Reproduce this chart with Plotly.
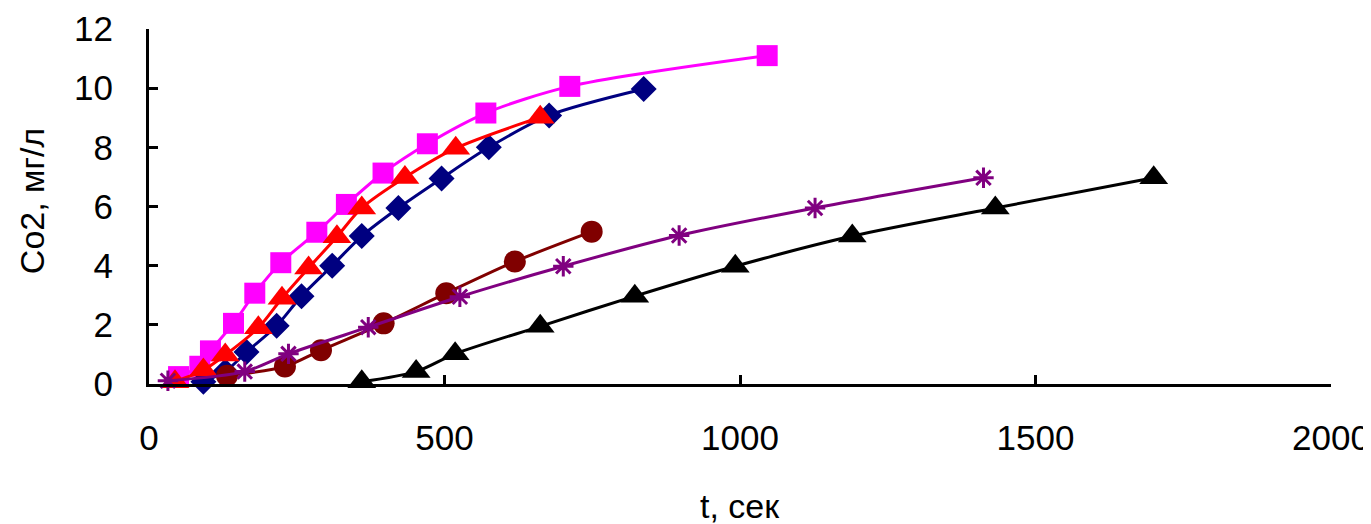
import plotly.graph_objects as go

# Data (t in seconds, Co2 in mg/l)
magenta_t = [50, 86, 104, 143, 179, 223, 284, 334, 396, 471, 570, 712, 1046]
magenta_c = [0.25, 0.6, 1.12, 2.05, 3.07, 4.1, 5.13, 6.07, 7.13, 8.12, 9.16, 10.06, 11.1]

navy_t = [92, 129, 165, 216, 258, 310, 360, 422, 495, 575, 677, 837]
navy_c = [0.08, 0.42, 1.08, 1.97, 2.97, 4.0, 5.0, 5.95, 6.95, 8.0, 9.08, 9.97]

red_t = [44, 92, 129, 185, 225, 270, 318, 360, 433, 519, 662]
red_c = [0.08, 0.47, 0.98, 1.9, 2.9, 3.92, 4.98, 5.95, 6.98, 7.97, 9.02]

maroon_t = [132, 230, 291, 397, 503, 619, 749]
maroon_c = [0.28, 0.59, 1.14, 2.05, 3.07, 4.14, 5.15]

purple_t = [32, 162, 236, 371, 526, 701, 897, 1127, 1412]
purple_c = [0.11, 0.42, 1.02, 1.92, 2.95, 3.98, 5.02, 5.95, 6.97]

black_t = [360, 452, 518, 662, 822, 992, 1190, 1432, 1700]
black_c = [0.08, 0.42, 1.02, 1.95, 2.97, 3.98, 5.0, 5.95, 6.97]

x_ticks = [0, 500, 1000, 1500, 2000]
y_ticks = [0, 2, 4, 6, 8, 10, 12]
x_title = "t, сек"
y_title = "Co2, мг/л"

FONT = "Arial, Liberation Sans, sans-serif"

series = [
    (magenta_t, magenta_c, "#FF00FF", dict(symbol="square", size=21)),
    (navy_t, navy_c, "#000080", dict(symbol="diamond", size=20)),
    (red_t, red_c, "#FF0000", dict(symbol="triangle-up", size=25)),
    (maroon_t, maroon_c, "#800000", dict(symbol="circle", size=22)),
    (purple_t, purple_c, "#800080", dict(symbol="asterisk-open", size=17)),
    (black_t, black_c, "#000000", dict(symbol="triangle-up", size=25)),
]

fig = go.Figure()
for t, c, color, mk in series:
    marker = dict(color=color, symbol=mk["symbol"], size=mk["size"])
    if mk["symbol"] == "asterisk-open":
        marker["line"] = dict(color=color, width=3)
    else:
        marker["line"] = dict(width=0)
    fig.add_trace(go.Scatter(
        x=t, y=c, mode="lines+markers",
        line=dict(color=color, width=3, shape="spline", smoothing=0.8),
        marker=marker, cliponaxis=False, showlegend=False,
    ))

fig.update_layout(
    width=1371, height=524,
    margin=dict(l=141, r=48, t=21, b=148),
    paper_bgcolor="white", plot_bgcolor="white",
    font=dict(family=FONT, size=35, color="black"),
    xaxis=dict(
        range=[0, 2000], tickvals=x_ticks, ticks="inside", ticklen=9,
        tickwidth=3, tickcolor="black", showline=True, linecolor="black",
        linewidth=3, showgrid=False, zeroline=False, automargin=False,
        tickfont=dict(size=35), ticklabelstandoff=21,
    ),
    yaxis=dict(
        range=[0, 12], tickvals=y_ticks, ticks="inside", ticklen=9,
        tickwidth=3, tickcolor="black", showline=True, linecolor="black",
        linewidth=3, showgrid=False, zeroline=False, automargin=False,
        tickfont=dict(size=35), ticklabelstandoff=26,
    ),
    annotations=[
        dict(text=x_title, xref="paper", yref="paper", x=0.5, y=-0.345,
             showarrow=False, font=dict(size=34), xanchor="center", yanchor="middle"),
        dict(text=y_title, xref="paper", yref="paper", x=-0.099, y=0.515,
             showarrow=False, font=dict(size=34), textangle=-90,
             xanchor="center", yanchor="middle"),
    ],
)

fig.write_html("out.html")
